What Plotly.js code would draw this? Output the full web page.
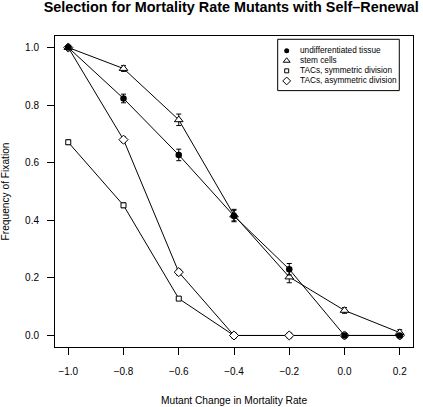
<!DOCTYPE html>
<html>
<head>
<meta charset="utf-8">
<script src="https://cdn.plot.ly/plotly-3.0.1.min.js"></script>
<style>html,body{margin:0;padding:0;background:#fff;}#chart{width:423px;height:407px;}</style>
</head>
<body>
<div id="chart"></div>
<script>
// ---- data ----
var xVals = [-1.0, -0.8, -0.6, -0.4, -0.2, 0.0, 0.2];
var undiff    = [1.0, 0.823, 0.627, 0.415, 0.230, 0.0, 0.0];
var undiffErr = [0.005, 0.015, 0.02, 0.02, 0.02, 0.004, 0.004];
var stem      = [1.0, 0.927, 0.749, 0.418, 0.203, 0.087, 0.010];
var stemErr   = [0.004, 0.01, 0.02, 0.02, 0.02, 0.01, 0.01];
var tacSym    = [0.671, 0.452, 0.128, 0.0, 0.0, 0.0, 0.0];
var tacSymErr = [0.008, 0.008, 0.005, 0.003, 0.003, 0.003, 0.003];
var tacAsym    = [1.0, 0.680, 0.220, 0.0, 0.0, 0.0, 0.0];
var tacAsymErr = [0.004, 0.01, 0.01, 0.003, 0.003, 0.003, 0.003];
var seriesNames = ["undifferentiated tissue", "stem cells", "TACs, symmetric division", "TACs, asymmetric division"];
var xTickVals = [-1.0, -0.8, -0.6, -0.4, -0.2, 0.0, 0.2];
var xTickText = ["\u22121.0", "\u22120.8", "\u22120.6", "\u22120.4", "\u22120.2", "0.0", "0.2"];
var yTickVals = [0.0, 0.2, 0.4, 0.6, 0.8, 1.0];
var yTickText = ["0.0", "0.2", "0.4", "0.6", "0.8", "1.0"];
var titleText = "Selection for Mortality Rate Mutants with Self\u2013Renewal";
var xTitle = "Mutant Change in Mortality Rate";
var yTitle = "Frequency of Fixation";

// ---- layout constants ----
var W = 423, H = 407;
var M = {l: 55, r: 10.3, t: 36, b: 59.5};
var PW = W - M.l - M.r, PH = H - M.t - M.b;
function px(xp){ return (xp - M.l) / PW; }
function py(yp){ return (H - M.b - yp) / PH; }
var FONT = "Liberation Sans, Arial, Helvetica, sans-serif";

var styles = [
  {symbol: "circle", size: 6.5, lsize: 5, color: "black", lw: 0},
  {symbol: "triangle-up", size: 7.5, lsize: 6, color: "white", lw: 1},
  {symbol: "square", size: 5, lsize: 4, color: "white", lw: 1},
  {symbol: "diamond", size: 7, lsize: 6, color: "white", lw: 1}
];
var ys = [undiff, stem, tacSym, tacAsym];
var errs = [undiffErr, stemErr, tacSymErr, tacAsymErr];
var order = [2, 3, 1, 0];

var traces = order.map(function(i){
  var s = styles[i];
  return {
    type: "scatter", mode: "lines+markers", name: seriesNames[i],
    x: xVals, y: ys[i], showlegend: false,
    line: {color: "black", width: 1},
    marker: {symbol: s.symbol, size: s.size, color: s.color, line: {color: "black", width: s.lw}},
    error_y: {type: "data", array: errs[i], visible: true, color: "black", thickness: 1, width: 2.5},
    cliponaxis: false
  };
});

// manual legend (R style) on an overlay axis in pixel space
var legBox = {x0: 277.5, x1: 399, y0: 39.3, y1: 90.7};
var legRow0 = 50.7, legDy = 10.1, legSymX = 286.5, legTxtX = 298;
for (var k = 0; k < 4; k++) {
  var s = styles[k];
  traces.push({
    type: "scatter", mode: "markers", xaxis: "x2", yaxis: "y2", showlegend: false, hoverinfo: "skip",
    x: [legSymX], y: [legRow0 + k * legDy],
    marker: {symbol: s.symbol, size: s.lsize, color: s.color, line: {color: "black", width: s.lw}}
  });
}

var annotations = [
  {xref: "paper", yref: "paper", x: px(6), y: 0.5, text: yTitle, textangle: -90, showarrow: false,
   xanchor: "center", yanchor: "middle", font: {family: FONT, size: 10.2, color: "black"}},
  {xref: "paper", yref: "paper", x: 0.5, y: py(401), text: xTitle, showarrow: false,
   xanchor: "center", yanchor: "middle", font: {family: FONT, size: 10.2, color: "black"}}
];
for (var k = 0; k < 4; k++) {
  annotations.push({xref: "paper", yref: "paper", x: px(legTxtX), y: py(legRow0 + k * legDy),
    text: seriesNames[k], showarrow: false, xanchor: "left", yanchor: "middle",
    font: {family: FONT, size: 8.25, color: "black"}});
}

var layout = {
  width: W, height: H, margin: M, paper_bgcolor: "white", plot_bgcolor: "white",
  showlegend: false,
  title: {text: "<b>" + titleText + "</b>", x: px(231), xref: "paper", y: 1 - 7.2 / H, yref: "container",
          xanchor: "center", yanchor: "middle", font: {family: FONT, size: 14.4, color: "black"}},
  xaxis: {range: [-1.048, 0.248], tickvals: xTickVals, ticktext: xTickText, ticks: "outside", ticklen: 7,
          tickcolor: "black", tickwidth: 1, showgrid: false, zeroline: false, showline: true, mirror: true,
          linecolor: "black", linewidth: 1, tickfont: {family: FONT, size: 10, color: "black"}, ticklabelstandoff: 8},
  yaxis: {range: [-0.04, 1.04], tickvals: yTickVals, ticktext: yTickText, ticks: "outside", ticklen: 7,
          tickcolor: "black", tickwidth: 1, showgrid: false, zeroline: false, showline: true, mirror: true,
          linecolor: "black", linewidth: 1, tickfont: {family: FONT, size: 10, color: "black"}, ticklabelstandoff: 6},
  xaxis2: {overlaying: "x", range: [M.l, W - M.r], visible: false, fixedrange: true},
  yaxis2: {overlaying: "y", range: [H - M.b, M.t], visible: false, fixedrange: true},
  shapes: [{type: "rect", xref: "paper", yref: "paper", x0: px(legBox.x0), x1: px(legBox.x1),
            y0: py(legBox.y1), y1: py(legBox.y0), line: {color: "black", width: 1}, fillcolor: "rgba(0,0,0,0)", layer: "below"}],
  annotations: annotations
};

Plotly.newPlot("chart", traces, layout, {staticPlot: true, displayModeBar: false});
</script>
</body>
</html>
